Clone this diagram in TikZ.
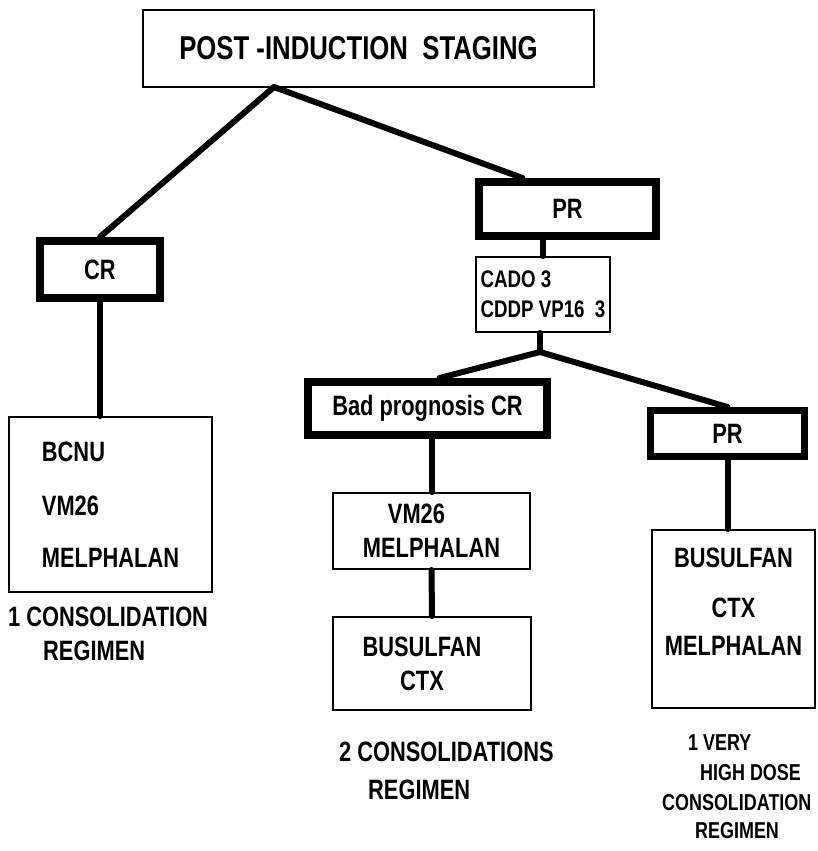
\documentclass[tikz,border=0pt]{standalone}
\usepackage{fontspec}
\setmainfont{Liberation Sans}[FakeStretch=0.78]
\usetikzlibrary{calc}

\begin{document}
\begin{tikzpicture}[x=1pt, y=-1pt,
  every node/.style={font=\bfseries\fontsize{28}{34}\selectfont, inner sep=0pt},
  box/.style={rectangle, draw, line width=2pt, align=center},
  result/.style={rectangle, draw, line width=8pt, align=center},
  note/.style={anchor=north west, align=left},
  line/.style={draw, line width=6pt, line cap=round}]
  \useasboundingbox (0,0) rectangle (817,851);

  \node [box, minimum width=451, minimum height=77, font=\bfseries\fontsize{33}{40}\selectfont] (staging) at (368.5,48.5) {POST -INDUCTION\ \ STAGING\hspace*{20pt}};

  \node [result, minimum width=120, minimum height=57] (cr) at (100,269.5) {CR};
  \node [result, minimum width=177, minimum height=54] (pr) at (567.5,209) {PR};
  \node [result, minimum width=239, minimum height=53] (badcr) at (427.5,408.5) {Bad prognosis CR};
  \node [result, line width=7pt, minimum width=154, minimum height=46] (pr2) at (727.5,433.5) {PR};

  \node [box, align=left, minimum width=203, minimum height=175] (bcnu) at (110.5,504.5) {BCNU\\[20pt]VM26\\[18pt]MELPHALAN};
  \node [box, align=left, minimum width=134, minimum height=75, font=\bfseries\fontsize{24}{30}\selectfont] (cado) at (543,294.5) {CADO 3\\CDDP VP16\ \ 3};
  \node [box, minimum width=197, minimum height=76] (vm) at (431.5,531) {VM26\hspace*{30pt}\\MELPHALAN};
  \node [box, minimum width=198, minimum height=93] (busctx) at (432,663.5) {BUSULFAN\hspace*{20pt}\\CTX\hspace*{20pt}};
  \node [box, minimum width=163, minimum height=178] (busmel) at (733.5,619) {BUSULFAN\\[16pt]CTX\\[4pt]MELPHALAN\\\mbox{}};

  \node [note] (note1) at (8,607) {1 CONSOLIDATION\\\hspace*{35pt}REGIMEN};
  \node [note] (note2) at (339,742) {2 CONSOLIDATIONS\\[4pt]\hspace*{29pt}REGIMEN};
  \node [note, font=\bfseries\fontsize{23}{30}\selectfont] (note3) at (662,734) {\hspace*{26pt}1 VERY\\\hspace*{38pt}HIGH DOSE\\CONSOLIDATION\\[-2pt]\hspace*{33pt}REGIMEN};

  \coordinate (fork1) at (274,87);
  \coordinate (fork2) at (540,352);

  \path [line] (fork1) -- (cr.north);
  \path [line] (fork1) -- ($(pr.north)+(-45,0)$);
  \path [line] (cr.south) -- (cr.south |- bcnu.north);
  \path [line] (cado.north |- pr.south) -- (cado.north);
  \path [line] (fork2 |- cado.south) -- (fork2);
  \path [line] (fork2) -- ($(badcr.north)+(12,0)$);
  \path [line] (fork2) -- (pr2.north);
  \path [line] (vm.north |- badcr.south) -- (vm.north);
  \path [line] (vm.south) -- (busctx.north);
  \path [line] (pr2.south) -- (pr2.south |- busmel.north);
\end{tikzpicture}
\end{document}
